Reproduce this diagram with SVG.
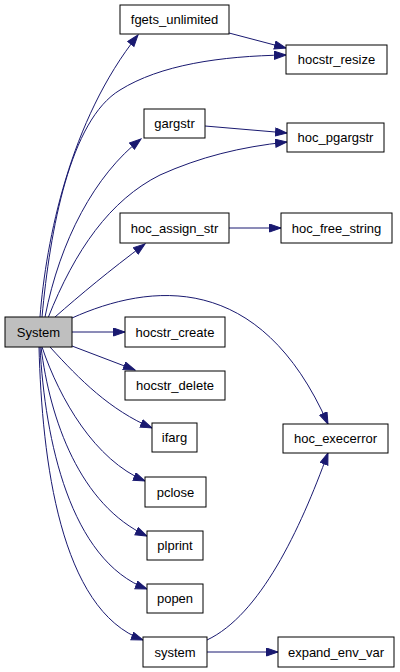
<svg xmlns="http://www.w3.org/2000/svg" width="400" height="672" viewBox="0 0 400 672">
<defs>
<style>
.n rect{fill:#fff;stroke:#000;stroke-width:1}
.n.root rect{fill:#bfbfbf}
.n text{font-family:"Liberation Sans",Arial,sans-serif;font-size:13px;fill:#000;text-anchor:middle}
#edges path{fill:none;stroke:#191970;stroke-width:1;marker-end:url(#ah)}
</style>
<marker id="ah" markerUnits="userSpaceOnUse" markerWidth="13" markerHeight="10" refX="12" refY="4.5" orient="auto">
<path d="M0.5,0.5 L12,4.5 L0.5,8.5 z" fill="#191970" stroke="#191970" stroke-width="1"/>
</marker>
</defs>
<rect width="400" height="672" fill="#fff"/>
<g id="edges">
<path d="M40,317 C46,240 70,120 138,35"/>
<path d="M42,317 C50,230 70,120 120,90 C160,65 220,56 286,55"/>
<path d="M229,33 L286,48"/>
<path d="M45,317 C60,240 95,175 141,139"/>
<path d="M205,126 L287,133"/>
<path d="M48,318 C75,250 110,200 160,175 C200,157 240,147 287,142"/>
<path d="M55,317 C80,295 110,270 145,244"/>
<path d="M229,228 L281,228"/>
<path d="M72,318 C150,283 260,270 328,424"/>
<path d="M72,332 L125,332"/>
<path d="M72,346 L135,370"/>
<path d="M50,347 C80,380 110,410 152,428"/>
<path d="M42,347 C60,400 95,460 145,481"/>
<path d="M41,347 C50,420 80,505 147,536"/>
<path d="M40,347 C45,440 70,560 147,589"/>
<path d="M39,347 C42,460 60,610 143,640"/>
<path d="M207,640 C260,615 300,530 328,453"/>
<path d="M207,652 L278,652"/>
</g>
<g id="System" class="n root"><rect x="5" y="317" width="67" height="30"/><text x="38.5" y="337">System</text></g>
<g id="fgets_unlimited" class="n"><rect x="120" y="5" width="109" height="29"/><text x="174.5" y="24">fgets_unlimited</text></g>
<g id="hocstr_resize" class="n"><rect x="286" y="45" width="101" height="29"/><text x="336.5" y="64">hocstr_resize</text></g>
<g id="gargstr" class="n"><rect x="144" y="109" width="61" height="29"/><text x="174.5" y="128">gargstr</text></g>
<g id="hoc_pgargstr" class="n"><rect x="287" y="123" width="97" height="29"/><text x="335.5" y="142">hoc_pgargstr</text></g>
<g id="hoc_assign_str" class="n"><rect x="120" y="213" width="109" height="30"/><text x="174.5" y="233">hoc_assign_str</text></g>
<g id="hoc_free_string" class="n"><rect x="281" y="213" width="111" height="30"/><text x="336.5" y="233">hoc_free_string</text></g>
<g id="hocstr_create" class="n"><rect x="125" y="317" width="100" height="30"/><text x="175" y="337">hocstr_create</text></g>
<g id="hocstr_delete" class="n"><rect x="125" y="371" width="100" height="29"/><text x="175" y="390">hocstr_delete</text></g>
<g id="ifarg" class="n"><rect x="152" y="423" width="45" height="29"/><text x="174.5" y="442">ifarg</text></g>
<g id="hoc_execerror" class="n"><rect x="283" y="424" width="105" height="29"/><text x="335.5" y="443">hoc_execerror</text></g>
<g id="pclose" class="n"><rect x="145" y="477" width="61" height="30"/><text x="175.5" y="497">pclose</text></g>
<g id="plprint" class="n"><rect x="147" y="531" width="56" height="29"/><text x="175" y="550">plprint</text></g>
<g id="popen" class="n"><rect x="147" y="584" width="56" height="29"/><text x="175" y="603">popen</text></g>
<g id="system" class="n"><rect x="143" y="637" width="64" height="30"/><text x="175" y="657">system</text></g>
<g id="expand_env_var" class="n"><rect x="278" y="637" width="116" height="30"/><text x="336" y="657">expand_env_var</text></g>
</svg>
